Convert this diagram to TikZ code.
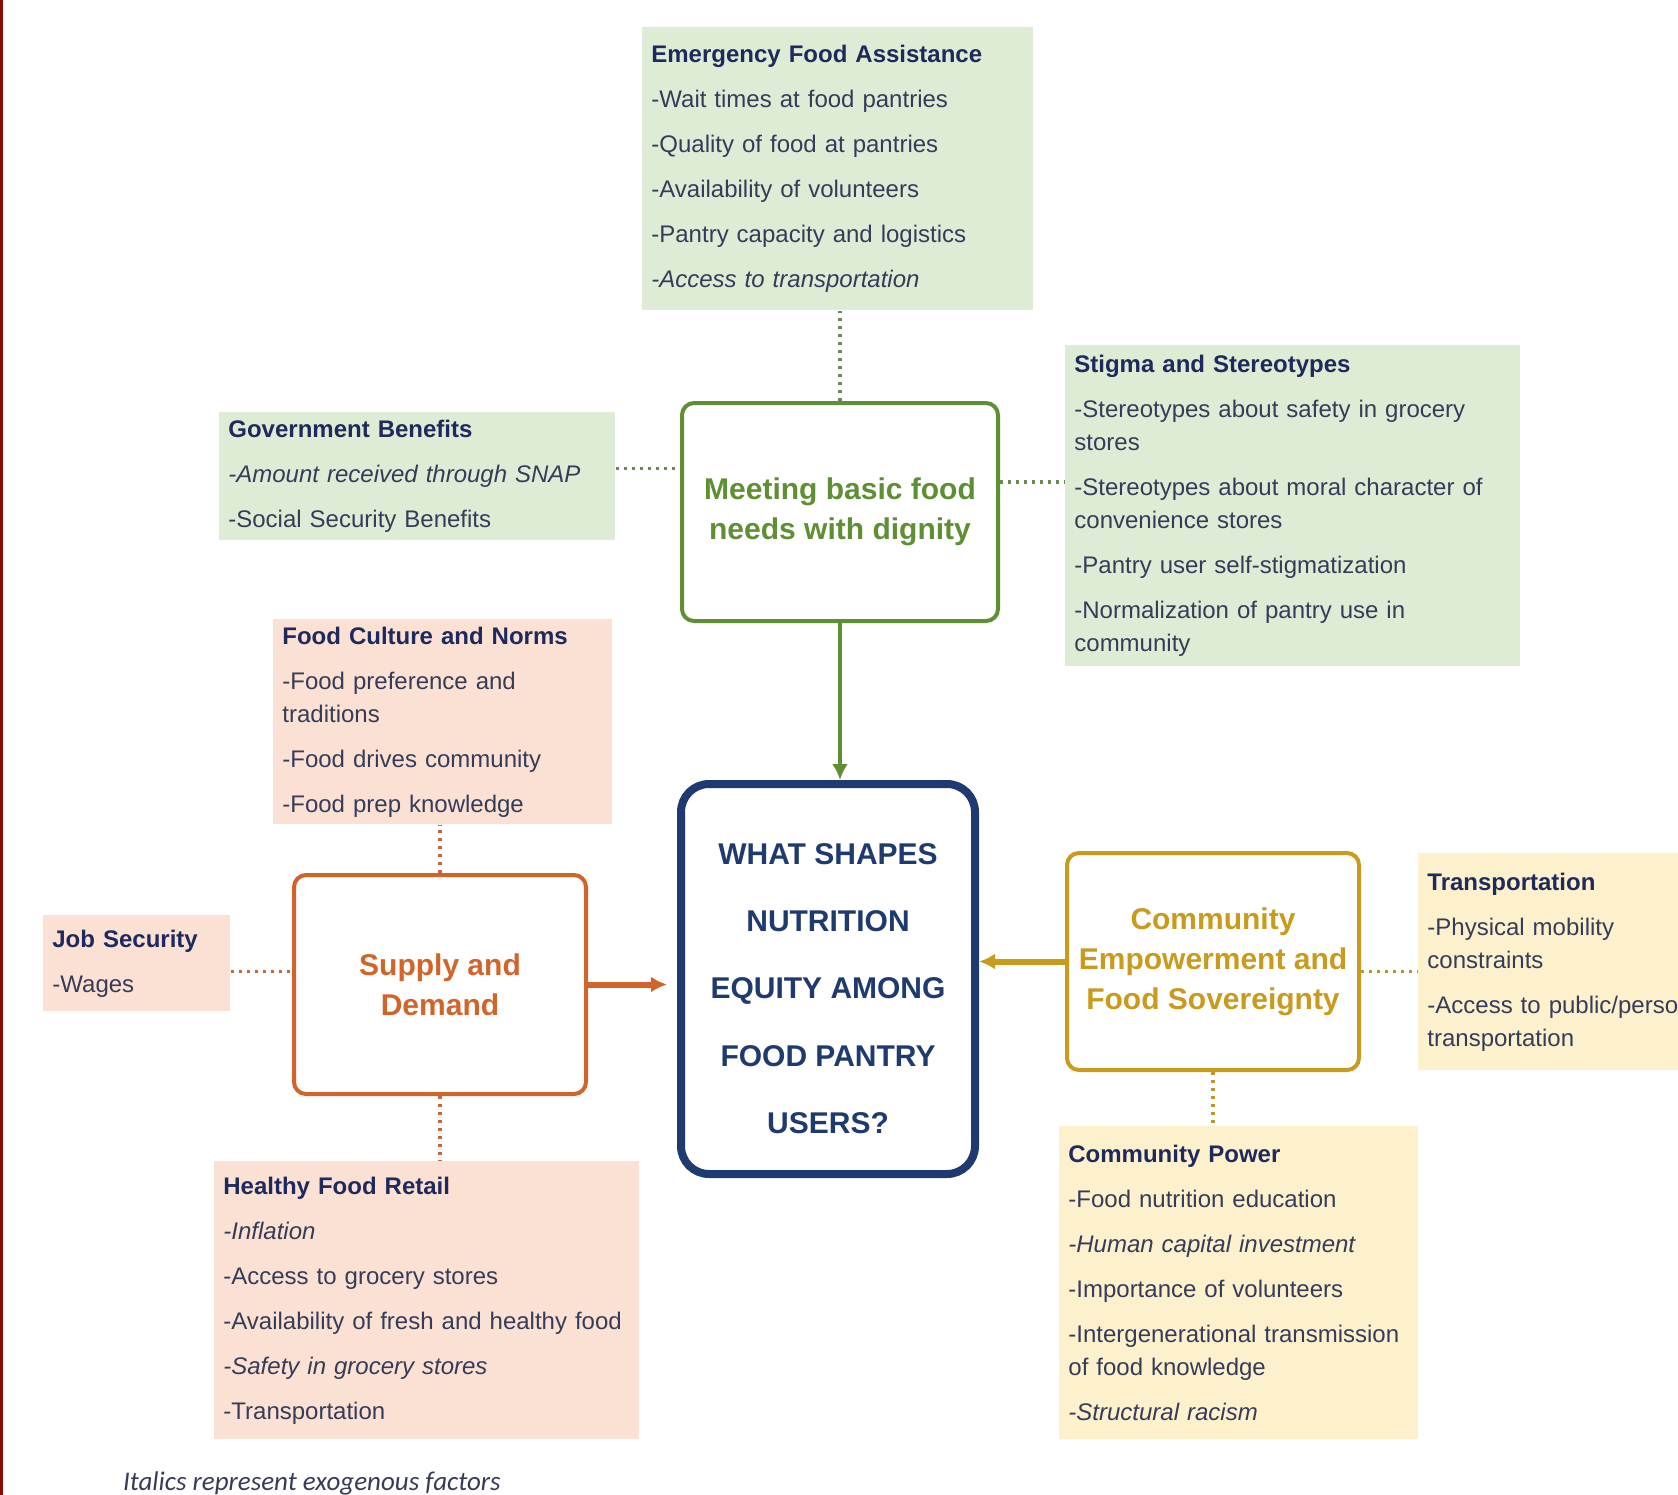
\documentclass[tikz,border=0pt]{standalone}
\usepackage{fontspec}
\setmainfont{Liberation Sans}
\newfontfamily\notefont{Carlito}
\usetikzlibrary{arrows.meta}

\definecolor{grnfill}{HTML}{DEECD6}
\definecolor{orgfill}{HTML}{FAE1D3}
\definecolor{ylwfill}{HTML}{FDF1CD}
\definecolor{grnline}{HTML}{5E8F33}
\definecolor{orgline}{HTML}{D2642A}
\definecolor{ylwline}{HTML}{C99A1C}
\definecolor{navyline}{HTML}{1E3A6E}
\definecolor{headtxt}{HTML}{1F2A5C}
\definecolor{bodytxt}{HTML}{363C58}
\definecolor{edgered}{HTML}{8B0A0A}

\newcommand{\fachead}[1]{\textcolor{headtxt}{\textbf{#1}}}

\tikzset{
	factor/.style={anchor=north west, inner xsep=4.5pt, inner ysep=0pt, align=left,
		text=bodytxt, font=\fontsize{12}{16.5}\selectfont},
	theme/.style={draw, line width=2pt, rounded corners=6pt, align=center,
		font=\bfseries\fontsize{15}{20}\selectfont},
	link/.style={line width=1.6pt, dash pattern=on 1.6pt off 2.4pt},
	push/.style={-{Latex[length=8pt,width=8pt]}},
}

\begin{document}
\begin{tikzpicture}[x=0.5pt, y=-0.5pt]
	\useasboundingbox (0,0) rectangle (1678,1495);
	\clip (0,0) rectangle (1678,1495);
	\fill[edgered] (0,0) rectangle (3,1495);

	% factor boxes
	\node[factor, fill=grnfill, minimum width=195.5pt, minimum height=141.5pt, text width=186.5pt] (emerg) at (642,27)
		{\fachead{Emergency Food Assistance}\\[6pt]
		-Wait times at food pantries\\[6pt]
		-Quality of food at pantries\\[6pt]
		-Availability of volunteers\\[6pt]
		-Pantry capacity and logistics\\[6pt]
		\textit{-Access to transportation}};
	\node[factor, fill=grnfill, minimum width=198pt, minimum height=64pt, text width=189pt] (govben) at (219,412)
		{\fachead{Government Benefits}\\[6pt]
		\textit{-Amount received through SNAP}\\[6pt]
		-Social Security Benefits};
	\node[factor, fill=grnfill, minimum width=227.5pt, minimum height=160.5pt, text width=218.5pt] (stigma) at (1065,345)
		{\fachead{Stigma and Stereotypes}\\[6pt]
		-Stereotypes about safety in grocery\\stores\\[6pt]
		-Stereotypes about moral character of\\convenience stores\\[6pt]
		-Pantry user self-stigmatization\\[6pt]
		-Normalization of pantry use in\\community};
	\node[factor, fill=orgfill, minimum width=169.5pt, minimum height=102.5pt, text width=160.5pt] (culture) at (273,619)
		{\fachead{Food Culture and Norms}\\[6pt]
		-Food preference and\\traditions\\[6pt]
		-Food drives community\\[6pt]
		-Food prep knowledge};
	\node[factor, fill=orgfill, minimum width=93.5pt, minimum height=48pt, text width=84.5pt] (jobsec) at (43,915)
		{\fachead{Job Security}\\[6pt]
		-Wages};
	\node[factor, fill=orgfill, minimum width=212.5pt, minimum height=139pt, text width=203.5pt] (retail) at (214,1161)
		{\fachead{Healthy Food Retail}\\[6pt]
		\textit{-Inflation}\\[6pt]
		-Access to grocery stores\\[6pt]
		-Availability of fresh and healthy food\\[6pt]
		\textit{-Safety in grocery stores}\\[6pt]
		-Transportation};
	\node[factor, fill=ylwfill, minimum width=210pt, minimum height=108.5pt, text width=201pt] (transp) at (1418,853)
		{\fachead{Transportation}\\[6pt]
		-Physical mobility\\constraints\\[6pt]
		-Access to public/personal\\transportation};
	\node[factor, fill=ylwfill, minimum width=179.5pt, minimum height=156.5pt, text width=170.5pt] (power) at (1059,1126)
		{\fachead{Community Power}\\[6pt]
		-Food nutrition education\\[6pt]
		\textit{-Human capital investment}\\[6pt]
		-Importance of volunteers\\[6pt]
		-Intergenerational transmission\\of food knowledge\\[6pt]
		\textit{-Structural racism}};

	% theme boxes
	\node[theme, draw=grnline, text=grnline, minimum width=158pt, minimum height=109pt] (meet) at (840,512)
		{Meeting basic food\\needs with dignity};
	\node[theme, draw=orgline, text=orgline, minimum width=146pt, minimum height=109.5pt] (supply) at (440,984.5)
		{Supply and\\Demand};
	\node[theme, draw=ylwline, text=ylwline, minimum width=146pt, minimum height=108.5pt] (commun) at (1213,961.5)
		{Community\\Empowerment and\\Food Sovereignty};
	\node[theme, draw=navyline, text=navyline, line width=4pt, rounded corners=14pt, minimum width=147pt, minimum height=195pt,
		font=\bfseries\fontsize{15}{33.7}\selectfont] (query) at (828,979)
		{\rule{0pt}{20pt}WHAT SHAPES\\NUTRITION\\EQUITY AMONG\\FOOD PANTRY\\USERS?};

	% dotted links
	\draw[link, draw=grnline!60!gray] (meet.north) -- (meet.north |- emerg.south);
	\draw[link, draw=grnline!60!gray] ([yshift=4pt]govben.east) -- ([yshift=4pt]govben.east -| meet.west);
	\draw[link, draw=grnline!60!gray] ([yshift=15pt]meet.east) -- ([yshift=15pt]meet.east -| stigma.west);
	\draw[link, draw=orgline!70!gray] (supply.north) -- (supply.north |- culture.south);
	\draw[link, draw=orgline!70!gray] ([yshift=-4pt]jobsec.east) -- ([yshift=-4pt]jobsec.east -| supply.west);
	\draw[link, draw=orgline!70!gray] (supply.south) -- (supply.south |- retail.north);
	\draw[link, draw=ylwline!80!gray] ([yshift=-5pt]commun.east) -- ([yshift=-5pt]commun.east -| transp.west);
	\draw[link, draw=ylwline!80!gray] (commun.south) -- (commun.south |- power.north);

	% arrows into the question
	\draw[push, grnline, line width=2pt] (meet.south) -- (meet.south |- query.north);
	\draw[push, orgline, line width=3pt] (supply.east) -- ([xshift=-5pt]supply.east -| query.west);
	\draw[push, ylwline, line width=3pt] (commun.west) -- (commun.west -| query.east);

	\node[anchor=base west, text=bodytxt, font=\notefont\itshape\fontsize{13.5}{15}\selectfont] (note) at (116,1490)
		{Italics represent exogenous factors};
\end{tikzpicture}
\end{document}
